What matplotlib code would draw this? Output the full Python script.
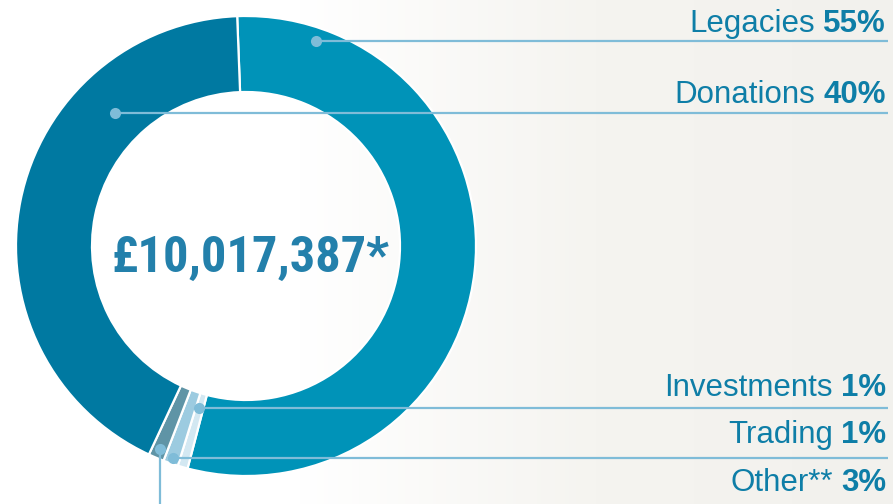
import numpy as np
import matplotlib
matplotlib.use('Agg')
import matplotlib.pyplot as plt
from matplotlib import font_manager
from matplotlib.colors import LinearSegmentedColormap

W, H = 893, 504

labels = ['Legacies', 'Investments', 'Trading', 'Other**', 'Donations']
pct_text = ['55%', '1%', '1%', '3%', '40%']
shares = [54.7, 0.7, 1.05, 1.1, 42.45]   # slice sizes as drawn in the picture
colors = ['#0093b8', '#d3e8f2', '#9ccbe0', '#5f94a6', '#0079a1']
total_text = '£10,017,387*'

# leader anchor: fraction along the wedge (clockwise), radius in px
anchor_frac = [0.107, 0.5, 0.5, 0.5, 0.723]
anchor_r = [217, 169, 224, 220, 187]
text_base = [32, 396, 443, 491, 103]   # label baselines, px from top

line_c = '#7fbcd8'
text_c = '#0e7ea7'
cx, cy, R = 246, H - 246, 230


def pick_condensed():
    # try to find some narrow bold face for the big total
    tries = [('Noto Sans', 'ultra-condensed'), ('Noto Sans', 'extra-condensed'),
             ('Noto Sans', 'condensed'),
             ('Roboto Condensed', 'normal'), ('Roboto', 'condensed'),
             ('DejaVu Sans', 'condensed'), ('DejaVu Sans Condensed', 'normal'),
             ('Liberation Sans Narrow', 'normal'), ('Open Sans', 'condensed')]
    for fam, st in tries:
        fp = font_manager.FontProperties(family=fam, stretch=st, weight='bold')
        try:
            path = font_manager.findfont(fp, fallback_to_default=False)
        except Exception:
            continue
        name = path.lower()
        if 'condensed' in name or 'narrow' in name:
            return fam, st
    return 'DejaVu Sans', 'normal'


fig = plt.figure(figsize=(W / 100, H / 100), dpi=100)

# soft paper background, white at left fading to warm grey at right
bg = fig.add_axes([0, 0, 1, 1], zorder=-1)
grad = np.linspace(0, 1, 256).reshape(1, -1)
cm = LinearSegmentedColormap.from_list('paper', ['#ffffff', '#ffffff', '#f5f4f0', '#f2f1ed'])
bg.imshow(grad, aspect='auto', cmap=cm, extent=[0, 1, 0, 1])
bg.axis('off')

ax = fig.add_axes([0, 0, 1, 1])
ax.patch.set_alpha(0)
wedges, _ = ax.pie(shares, colors=colors, startangle=92.2, counterclock=False,
                   center=(cx, cy), radius=R,
                   wedgeprops=dict(width=76, edgecolor='white', linewidth=1.6))
ax.set_xlim(0, W)
ax.set_ylim(0, H)
ax.set_aspect('equal')
ax.axis('off')

renderer = fig.canvas.get_renderer()

fam, st = pick_condensed()
big = ax.text(251, H - 272, total_text, ha='center', va='baseline', fontsize=40,
              fontweight='bold', fontstretch=st, color='#2380ab', family=fam)
wpx = big.get_window_extent(renderer).width
big.set_fontsize(40 * 278 / wpx)

for w, lab, pct, fr, r, tb in zip(wedges, labels, pct_text, anchor_frac, anchor_r, text_base):
    ang = np.deg2rad(w.theta2 - fr * (w.theta2 - w.theta1))
    x = cx + r * np.cos(ang)
    y = cy + r * np.sin(ang)
    if lab.startswith('Other'):
        ax.plot([x, x], [y, 0], color=line_c, lw=1.6, zorder=5, solid_capstyle='butt')
    else:
        ax.plot([x, 888], [y, y], color=line_c, lw=1.6, zorder=5, solid_capstyle='butt')
    ax.plot(x, y, 'o', ms=8, color=line_c, mec='none', zorder=6)

    t = ax.text(886, H - tb, pct, ha='right', va='baseline', fontsize=22.5,
                fontweight='bold', color=text_c, family='Liberation Sans')
    bb = t.get_window_extent(renderer)
    ax.text(bb.x0 - 8, H - tb, lab, ha='right', va='baseline', fontsize=22.5,
            color=text_c, family='Liberation Sans')

fig.savefig('out.png', dpi=100)
